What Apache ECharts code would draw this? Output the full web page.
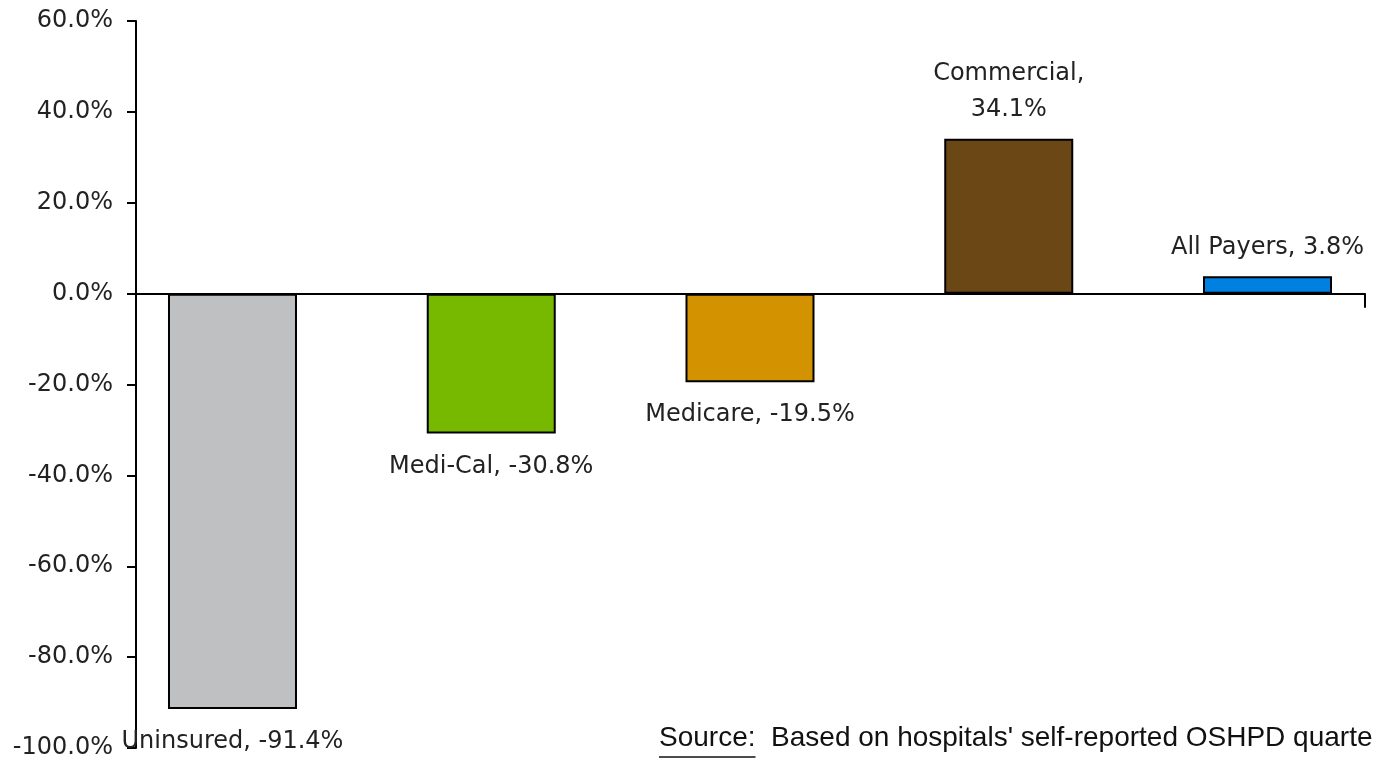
<!DOCTYPE html>
<html>
<head>
<meta charset="utf-8">
<script src="https://cdn.jsdelivr.net/npm/echarts@6/dist/echarts.min.js"></script>
<style>html,body{margin:0;padding:0;background:#fff;}#c{width:1379px;height:760px;}</style>
</head>
<body>
<div id="c"></div>
<script>
const categories = ['Uninsured', 'Medi-Cal', 'Medicare', 'Commercial', 'All Payers'];
const values = [-91.4, -30.8, -19.5, 34.1, 3.8];
const barColors = ['#BFC0C2', '#77B800', '#D39200', '#6B4716', '#0080E0'];
const labelSeparators = [', ', ', ', ', ', ',\n', ', '];
const yTicks = { min: -100, max: 60, interval: 20 };
const sourceLabel = 'Source:';
const sourceText = "  Based on hospitals' self-reported OSHPD quarte";

const chart = echarts.init(document.getElementById('c'), null, { renderer: 'canvas' });

const xMin = -0.3729, xMax = 4.3768;
const srcFont = '28px "Liberation Sans"';
const cv = document.createElement('canvas').getContext('2d');
cv.font = srcFont;
const srcW = cv.measureText(sourceLabel).width;

const data = categories.map((c, i) => ({
  value: [i, values[i]],
  itemStyle: { color: barColors[i] },
  label: { distance: values[i] < 0 ? 15 : 11 }
}));

chart.setOption({
  animation: false,
  backgroundColor: '#ffffff',
  grid: { left: 136, right: 14, top: 21, bottom: 10, containLabel: false },
  xAxis: {
    type: 'value', min: xMin, max: xMax,
    axisLine: { onZero: true, lineStyle: { color: '#000', width: 2 } },
    axisTick: { show: true, length: 14, customValues: [xMax], lineStyle: { color: '#000', width: 2 } },
    axisLabel: { show: false },
    splitLine: { show: false }
  },
  yAxis: {
    type: 'value', min: yTicks.min, max: yTicks.max, interval: yTicks.interval,
    axisLine: { show: true, onZero: false, lineStyle: { color: '#000', width: 2 } },
    axisTick: { show: true, length: 9, lineStyle: { color: '#000', width: 2 } },
    axisLabel: {
      margin: 23, color: '#222', fontSize: 24, fontFamily: 'DejaVu Sans',
      formatter: v => v.toFixed(1) + '%'
    },
    splitLine: { show: false }
  },
  series: [{
    type: 'bar',
    data: data,
    barWidth: 129,
    itemStyle: { borderColor: '#000', borderWidth: 2 },
    label: {
      show: true, position: 'outside', distance: 11,
      color: '#222', fontSize: 24, fontFamily: 'DejaVu Sans', lineHeight: 36,
      formatter: p => categories[p.dataIndex] + labelSeparators[p.dataIndex] + values[p.dataIndex].toFixed(1) + '%'
    }
  }],
  graphic: [
    { type: 'text', left: 659, top: 724, style: { text: sourceLabel + sourceText, font: srcFont, fill: '#111' } },
    { type: 'line', shape: { x1: 659, y1: 757, x2: 659 + srcW, y2: 757 }, style: { stroke: '#111', lineWidth: 1.5 } }
  ]
});
</script>
</body>
</html>
